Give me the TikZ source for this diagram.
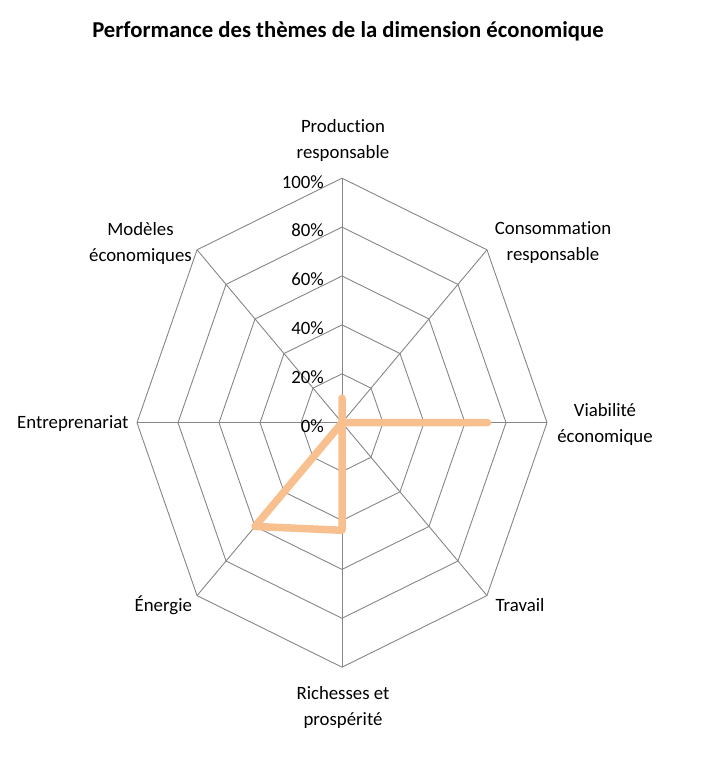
\documentclass[tikz,border=0pt]{standalone}
\usepackage{fontspec}
\setmainfont{Carlito}[Ligatures=NoCommon]
\definecolor{gridgray}{RGB}{134,134,134}
\definecolor{peach}{RGB}{248,192,142}
\begin{document}
\begin{tikzpicture}[x=1pt,y=1pt,
  gridline/.style={line width=0.9pt,color=gridgray},
  axislabel/.style={align=center,inner sep=0pt,font=\fontsize{18.8}{26}\selectfont},
  pctlabel/.style={anchor=east,inner sep=0pt,font=\fontsize{18.8}{22}\selectfont},
  serie/.style={line width=7.5pt,color=peach,line join=round,line cap=round}]
\useasboundingbox (0,0) rectangle (712,762);
\node[font=\bfseries\fontsize{22.7}{27}\selectfont] (titre) at (348,731) {Performance des thèmes de la dimension économique};
\begin{scope}[shift={(342,339.3)},x=205pt,y=244.5pt]
% anneaux 20% .. 100%
\draw [gridline] (0.,0.2)-- (0.1414,0.1414)-- (0.2,0.)-- (0.1414,-0.1414)-- (0.,-0.2)-- (-0.1414,-0.1414)-- (-0.2,0.)-- (-0.1414,0.1414)-- cycle;
\draw [gridline] (0.,0.4)-- (0.2828,0.2828)-- (0.4,0.)-- (0.2828,-0.2828)-- (0.,-0.4)-- (-0.2828,-0.2828)-- (-0.4,0.)-- (-0.2828,0.2828)-- cycle;
\draw [gridline] (0.,0.6)-- (0.4243,0.4243)-- (0.6,0.)-- (0.4243,-0.4243)-- (0.,-0.6)-- (-0.4243,-0.4243)-- (-0.6,0.)-- (-0.4243,0.4243)-- cycle;
\draw [gridline] (0.,0.8)-- (0.5657,0.5657)-- (0.8,0.)-- (0.5657,-0.5657)-- (0.,-0.8)-- (-0.5657,-0.5657)-- (-0.8,0.)-- (-0.5657,0.5657)-- cycle;
\draw [gridline] (0.,1.)-- (0.7071,0.7071)-- (1.,0.)-- (0.7071,-0.7071)-- (0.,-1.)-- (-0.7071,-0.7071)-- (-1.,0.)-- (-0.7071,0.7071)-- cycle;
% rayons
\draw [gridline] (0.,0.)-- (0.,1.);
\draw [gridline] (0.,0.)-- (0.7071,0.7071);
\draw [gridline] (0.,0.)-- (1.,0.);
\draw [gridline] (0.,0.)-- (0.7071,-0.7071);
\draw [gridline] (0.,0.)-- (0.,-1.);
\draw [gridline] (0.,0.)-- (-0.7071,-0.7071);
\draw [gridline] (0.,0.)-- (-1.,0.);
\draw [gridline] (0.,0.)-- (-0.7071,0.7071);
% serie
\draw [serie] (0.,0.1)-- (0.,0.)-- (0.71,0.)-- (0.,0.)-- (0.,-0.44)-- (-0.4243,-0.4243)-- (0.,0.)-- cycle;
\end{scope}
\node[pctlabel] (pct0) at (324,335.8) {0\%};
\node[pctlabel] (pct20) at (324,384.7) {20\%};
\node[pctlabel] (pct40) at (324,433.6) {40\%};
\node[pctlabel] (pct60) at (324,482.5) {60\%};
\node[pctlabel] (pct80) at (324,531.4) {80\%};
\node[pctlabel] (pct100) at (324,580.3) {100\%};
\node[axislabel] (production) at (343,622) {Production\\responsable};
\node[axislabel] (consommation) at (553,519) {Consommation\\responsable};
\node[axislabel] (viabilite) at (605,338) {Viabilité\\économique};
\node[axislabel] (travail) at (520,157) {Travail};
\node[axislabel] (richesses) at (343,54.5) {Richesses et\\prospérité};
\node[axislabel] (energie) at (163.3,157) {Énergie};
\node[axislabel] (entreprenariat) at (72.8,338) {Entreprenariat};
\node[axislabel] (modeles) at (140.5,518.5) {Modèles\\économiques};
\end{tikzpicture}
\end{document}
